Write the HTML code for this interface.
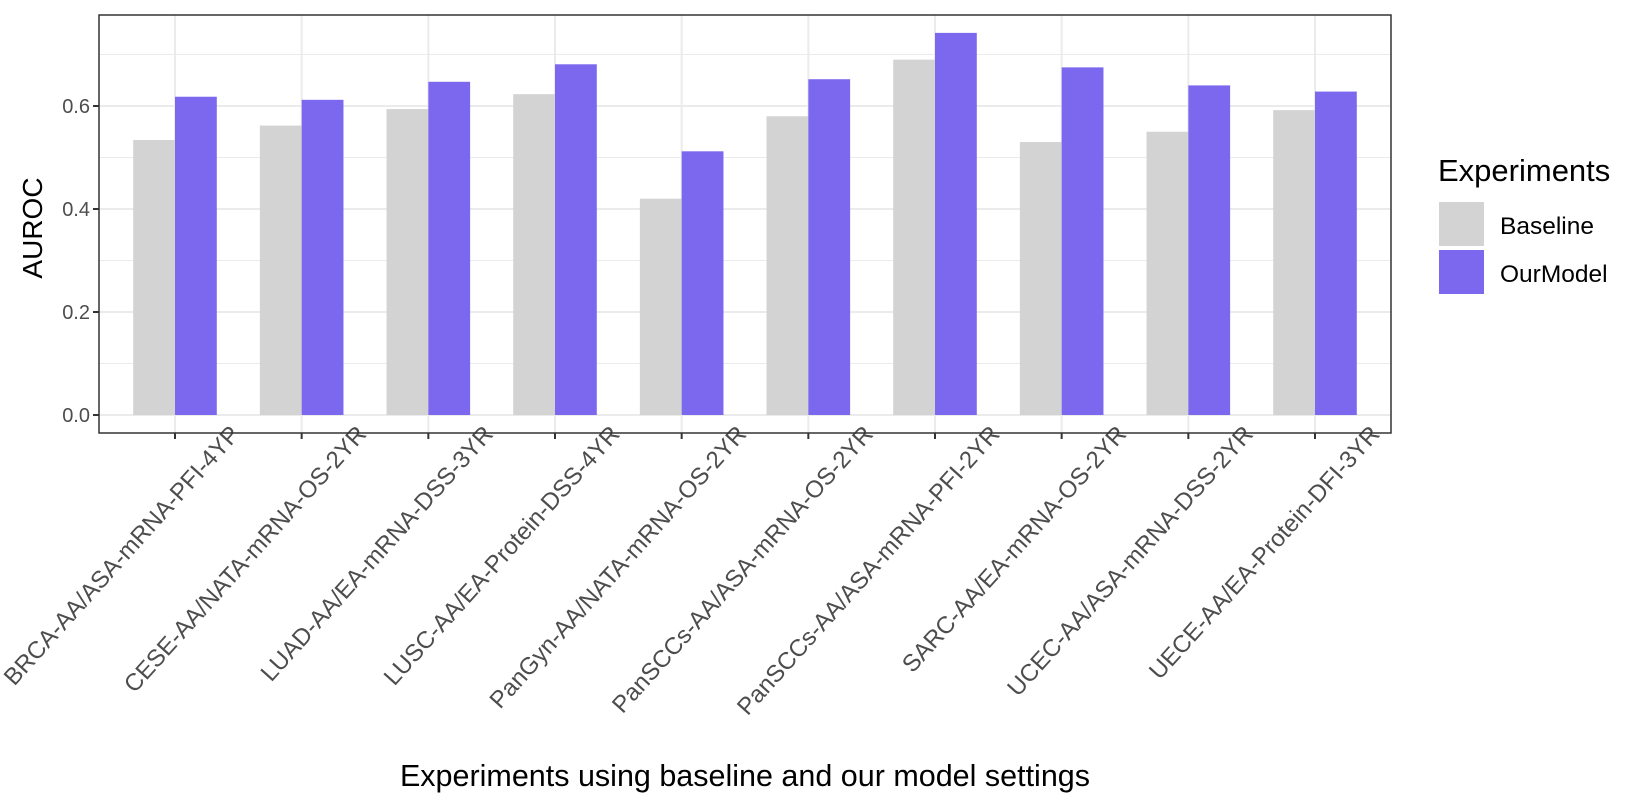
<!DOCTYPE html>
<html><head><meta charset="utf-8"><style>
body{margin:0;background:#fff;}
svg{display:block;font-family:"Liberation Sans",Arial,sans-serif;}
</style></head><body>
<svg id="chart" width="1642" height="809"></svg>
<script>
const categories=["BRCA-AA/ASA-mRNA-PFI-4YP","CESE-AA/NATA-mRNA-OS-2YR","LUAD-AA/EA-mRNA-DSS-3YR","LUSC-AA/EA-Protein-DSS-4YR","PanGyn-AA/NATA-mRNA-OS-2YR","PanSCCs-AA/ASA-mRNA-OS-2YR","PanSCCs-AA/ASA-mRNA-PFI-2YR","SARC-AA/EA-mRNA-OS-2YR","UCEC-AA/ASA-mRNA-DSS-2YR","UECE-AA/EA-Protein-DFI-3YR"];
const baseline=[0.534,0.562,0.594,0.623,0.420,0.580,0.690,0.530,0.550,0.592];
const ourModel=[0.618,0.612,0.647,0.681,0.512,0.652,0.742,0.675,0.640,0.628];
const yTicks=[0,0.2,0.4,0.6];
const yTickLabels=["0.0","0.2","0.4","0.6"];
const yMinor=[0.1,0.3,0.5,0.7];

const NS="http://www.w3.org/2000/svg";
const svg=document.getElementById('chart');
const L=99,R=1391,T=15,B=433;
const y0=415,yk=515;
const yScale=v=>y0-v*yk;
const step=(R-L)/(categories.length+0.2);
const xScale=i=>L+step*0.6+i*step;
const bw=step*0.33;
function mk(tag,attrs){const e=document.createElementNS(NS,tag);for(const k in attrs)e.setAttribute(k,attrs[k]);svg.appendChild(e);return e;}

let e=mk('rect',{x:L,y:T,width:R-L,height:B-T,fill:'#fff'});


yMinor.forEach(v=>{const l=mk('line',{x1:L,x2:R,y1:yScale(v),y2:yScale(v),stroke:'#ebebeb','stroke-width':1});

});
yTicks.forEach(v=>{const l=mk('line',{x1:L,x2:R,y1:yScale(v),y2:yScale(v),stroke:'#ebebeb','stroke-width':2});

});
categories.forEach((c,i)=>{const l=mk('line',{x1:xScale(i),x2:xScale(i),y1:T,y2:B,stroke:'#ebebeb','stroke-width':2});

});
categories.forEach((c,i)=>{
 const cx=xScale(i);
 let b=mk('rect',{x:cx-bw,y:yScale(baseline[i]),width:bw,height:yScale(0)-yScale(baseline[i]),fill:'#d3d3d3'});
 
 
 let m=mk('rect',{x:cx,y:yScale(ourModel[i]),width:bw,height:yScale(0)-yScale(ourModel[i]),fill:'#7b68ee'});
 
 
 let t=mk('line',{x1:cx,x2:cx,y1:B,y2:B+6,stroke:'#333','stroke-width':2});
 
 
 const ax=cx+66, ay=B+2;
 let tx=mk('text',{x:ax,y:ay,'text-anchor':'end','font-size':24,fill:'#4d4d4d',transform:`rotate(-48 ${ax} ${ay})`});
 tx.textContent=c;
 
 
});
yTicks.forEach((v,i)=>{
 let t=mk('line',{x1:L-6,x2:L,y1:yScale(v),y2:yScale(v),stroke:'#333','stroke-width':2});
 
 
 let tx=mk('text',{x:L-9,y:yScale(v)+7,'text-anchor':'end','font-size':20,fill:'#4d4d4d'});
 tx.textContent=yTickLabels[i];
 
 
});
e=mk('rect',{x:L,y:T,width:R-L,height:B-T,fill:'none',stroke:'#333','stroke-width':1.5});


e=mk('text',{x:42,y:228,'text-anchor':'middle','font-size':28,fill:'#000',transform:'rotate(-90 42 228)'});
e.textContent='AUROC';


e=mk('text',{x:745,y:786,'text-anchor':'middle','font-size':30.5,fill:'#000'});
e.textContent='Experiments using baseline and our model settings';


e=mk('text',{x:1438,y:181,'font-size':31,fill:'#000'});
e.textContent='Experiments';


e=mk('rect',{x:1439,y:202,width:45,height:44,fill:'#d3d3d3'});


e=mk('rect',{x:1439,y:250,width:45,height:44,fill:'#7b68ee'});


e=mk('text',{x:1500,y:234,'font-size':24.5,fill:'#000'});
e.textContent='Baseline';


e=mk('text',{x:1500,y:282,'font-size':24.5,fill:'#000'});
e.textContent='OurModel';


</script>
</body></html>
